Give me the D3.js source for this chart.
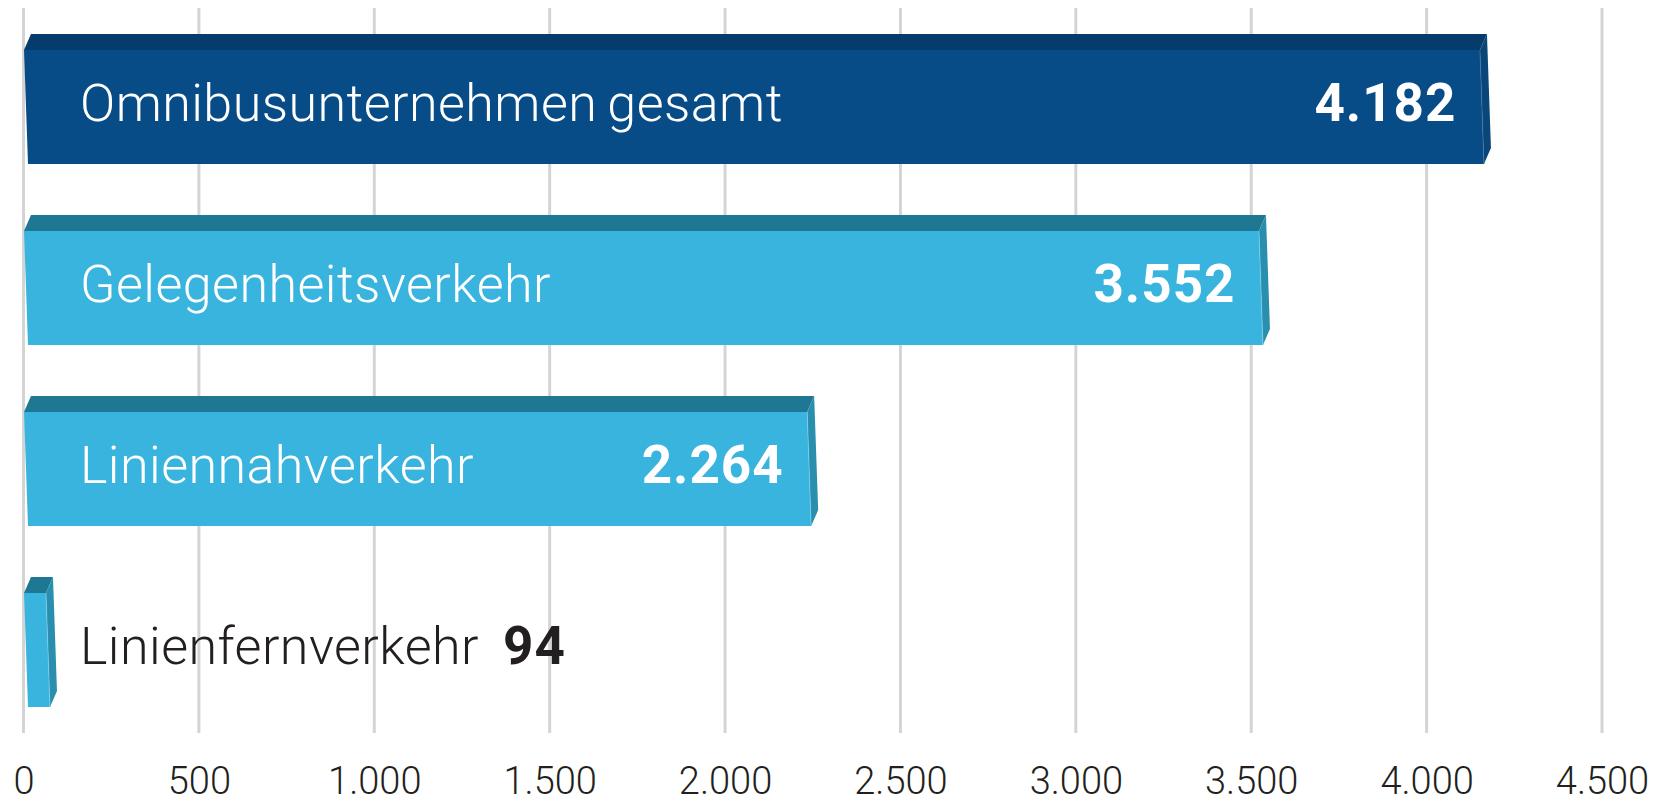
<!DOCTYPE html>
<html>
<head>
<meta charset="utf-8">
<script src="https://cdn.jsdelivr.net/npm/d3@7"></script>
<style>
  html, body { margin: 0; padding: 0; background: #fff; }
  svg { display: block; }
</style>
</head>
<body>
<div id="chart"></div>
<script>
// Data
const categories = ["Omnibusunternehmen gesamt", "Gelegenheitsverkehr", "Liniennahverkehr", "Linienfernverkehr"];
const values = [4182, 3552, 2264, 94];
const tickValues = [0, 500, 1000, 1500, 2000, 2500, 3000, 3500, 4000, 4500];

const width = 1661;
const height = 799;

const de = d3.formatLocale({ decimal: ",", thousands: ".", grouping: [3], currency: ["", " €"] });
const fmt = de.format(",d");

const svg = d3.select("#chart").append("svg")
    .attr("width", width)
    .attr("height", height);

// Scales
const x = d3.scaleLinear()
    .domain([0, 4500])
    .range([23.5, 1602]);

const y = d3.scaleBand()
    .domain(categories)
    .range([50, 707])
    .paddingInner(0.37)
    .paddingOuter(0);

// Gridlines
svg.append("g")
    .selectAll("line")
    .data(tickValues)
    .enter()
    .append("line")
    .attr("x1", d => x(d))
    .attr("x2", d => x(d))
    .attr("y1", 8)
    .attr("y2", 733)
    .style("stroke", "#d4d4d4")
    .style("stroke-width", 3);

// Axis labels
const axis = svg.append("g")
    .attr("transform", "translate(0,733)")
    .call(d3.axisBottom(x).tickValues(tickValues).tickFormat(fmt).tickSize(0).tickPadding(0));
axis.select(".domain").remove();
axis.selectAll("text")
    .attr("y", 61)
    .attr("dy", null)
    .style("font-family", "Roboto, 'Noto Sans', sans-serif")
    .style("font-weight", 300)
    .style("font-size", "38px")
    .style("fill", "#231f20");

// 3D-ish bars
const dx = 7, dy = 16;
const bars = values.map((v, i) => ({ name: categories[i], value: v, dark: i === 0 }));

const g = svg.append("g");
bars.forEach(d => {
    const top = y(d.name);
    const bot = top + y.bandwidth();
    const x0 = x(0);
    const xv = x(d.value);
    const front = [[x0 + 0.5, top], [xv - 10.5, top], [xv - 6.5, bot], [x0 + 4.5, bot]];
    const topFace = [[x0 + 0.5, top], [x0 + 0.5 + dx, top - dy], [xv - 10.5 + dx, top - dy], [xv - 10.5, top]];
    const side = [[xv - 10.5, top], [xv - 10.5 + dx, top - dy], [xv - 6.5 + dx, bot - dy], [xv - 6.5, bot]];

    const cFront = d.dark ? "#074c87" : "#38b4de";
    const cTop = d.dark ? "#053c6b" : "#1f7893";
    const cSide = d.dark ? "#0a4678" : "#2a8fae";

    g.append("polygon").attr("points", topFace.join(" ")).style("fill", cTop);
    g.append("polygon").attr("points", side.join(" ")).style("fill", cSide);
    g.append("polygon").attr("points", front.join(" ")).style("fill", cFront);
    // light edge between front and side
    g.append("line")
        .attr("x1", xv - 10.5).attr("y1", top)
        .attr("x2", xv - 6.5).attr("y2", bot)
        .style("stroke", d.dark ? "#4f7fa8" : "#8fd6ee")
        .style("stroke-width", 1)
        .style("opacity", 0.6);
});

// Category + value labels
const labelX = 80;
const labels = svg.append("g");
const nameTexts = labels.selectAll(".name")
    .data(bars)
    .enter()
    .append("text")
    .attr("class", "name")
    .attr("x", labelX)
    .attr("y", d => y(d.name) + y.bandwidth() / 2 + 14)
    .style("font-family", "Roboto, 'Noto Sans', sans-serif")
    .style("font-weight", 300)
    .style("font-size", "52px")
    .style("fill", d => d.value > 500 ? "#ffffff" : "#231f20")
    .text(d => d.name);

// widen letter spacing so the labels get roughly the reference width
const firstNode = nameTexts.nodes()[0];
const baseLen = firstNode.getComputedTextLength();
const spacing = (697 - baseLen) / (categories[0].length - 1) + 0.35;
nameTexts
    .style("letter-spacing", spacing + "px")
    .style("word-spacing", "-3px");

labels.selectAll(".val")
    .data(bars)
    .enter()
    .append("text")
    .attr("class", "val")
    .attr("y", d => y(d.name) + y.bandwidth() / 2 + 14)
    .style("font-family", "Roboto, 'Noto Sans', sans-serif")
    .style("font-weight", 700)
    .style("font-size", "53px")
    .style("letter-spacing", "1px")
    .style("fill", d => d.value > 500 ? "#ffffff" : "#231f20")
    .each(function(d, i) {
        const t = d3.select(this);
        if (d.value > 500) {
            t.attr("x", x(d.value) - 34).style("text-anchor", "end");
        } else {
            const nameLen = nameTexts.nodes()[i].getComputedTextLength();
            t.attr("x", labelX + nameLen + 24).style("text-anchor", "start");
        }
    })
    .text(d => fmt(d.value));
</script>
</body>
</html>
